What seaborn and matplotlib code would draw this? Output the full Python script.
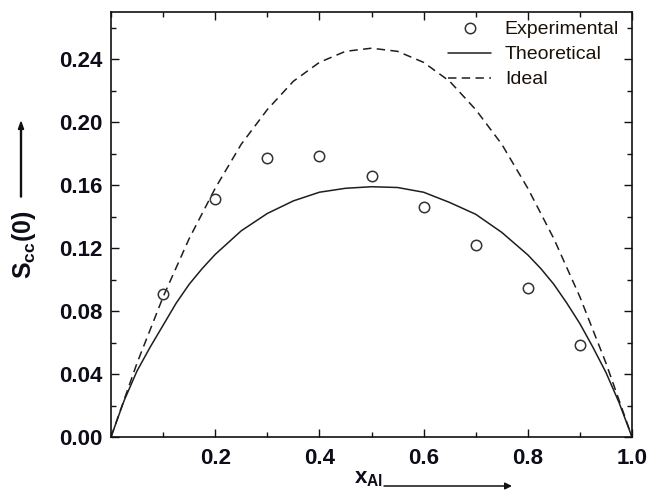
import matplotlib
matplotlib.use("Agg")
import matplotlib.pyplot as plt
import seaborn as sns
import pandas as pd
from matplotlib.ticker import MultipleLocator, FixedLocator

# ---- data ----
x_exp = [0.1, 0.2, 0.3, 0.4, 0.5, 0.6, 0.7, 0.8, 0.9]
s_exp = [0.0909, 0.1512, 0.1774, 0.1785, 0.1661, 0.1461, 0.1220, 0.0948, 0.0586]

x_theo = [0.0, 0.025, 0.05, 0.075, 0.10, 0.125, 0.15, 0.175, 0.20, 0.25, 0.30, 0.35, 0.40, 0.45, 0.50,
          0.55, 0.60, 0.65, 0.70, 0.75, 0.80, 0.825, 0.85, 0.875, 0.90, 0.925, 0.95, 0.975, 1.0]
s_theo = [0.0, 0.023, 0.042, 0.057, 0.071, 0.085, 0.097, 0.107, 0.116, 0.131, 0.142, 0.150, 0.1555,
          0.158, 0.159, 0.1585, 0.1555, 0.149, 0.1415, 0.130, 0.1157, 0.107, 0.097, 0.085, 0.072,
          0.057, 0.041, 0.022, 0.0]

x_ideal = [0.0, 0.05, 0.10, 0.15, 0.20, 0.25, 0.30, 0.35, 0.40, 0.45, 0.50,
           0.55, 0.60, 0.65, 0.70, 0.75, 0.80, 0.85, 0.90, 0.95, 1.0]
s_ideal = [0.0, 0.047, 0.089, 0.126, 0.158, 0.186, 0.208, 0.226, 0.238, 0.245, 0.247,
           0.245, 0.238, 0.226, 0.208, 0.186, 0.158, 0.126, 0.089, 0.047, 0.0]

x_ticklabels = ["0.2", "0.4", "0.6", "0.8", "1.0"]
y_ticklabels = ["0.00", "0.04", "0.08", "0.12", "0.16", "0.20", "0.24"]

sns.set_theme(style="ticks")
plt.rcParams["font.family"] = ["Liberation Sans", "DejaVu Sans"]
plt.rcParams["mathtext.fontset"] = "custom"
plt.rcParams["mathtext.rm"] = "Liberation Sans"
plt.rcParams["mathtext.bf"] = "Liberation Sans:bold"
plt.rcParams["mathtext.it"] = "Liberation Sans:italic"

W, H = 654, 493
fig = plt.figure(figsize=(W / 100, H / 100), dpi=100)
L, R, T, B = 111, 632, 12, 437
ax = fig.add_axes([L / W, 1 - B / H, (R - L) / W, (B - T) / H])

line_col = "#1e1e1e"
df_theo = pd.DataFrame({"x": x_theo, "s": s_theo})
df_ideal = pd.DataFrame({"x": x_ideal, "s": s_ideal})
df_exp = pd.DataFrame({"x": x_exp, "s": s_exp})

sns.lineplot(data=df_ideal, x="x", y="s", ax=ax, color=line_col, lw=1.1,
             linestyle=(0, (5.5, 3.5)), label="Ideal", sort=True)
sns.lineplot(data=df_theo, x="x", y="s", ax=ax, color=line_col, lw=1.1,
             label="Theoretical", sort=True)
ax.plot(df_exp["x"], df_exp["s"], linestyle="none", marker="o", markersize=7.5,
        markerfacecolor="none", markeredgecolor="#333333", markeredgewidth=1.1,
        label="Experimental")

ax.set_xlim(0, 1.0)
ax.set_ylim(0, 0.27)
ax.xaxis.set_major_locator(FixedLocator([0.2, 0.4, 0.6, 0.8, 1.0]))
ax.set_xticklabels(x_ticklabels)
ax.xaxis.set_minor_locator(MultipleLocator(0.1))
ax.yaxis.set_major_locator(FixedLocator([0.0, 0.04, 0.08, 0.12, 0.16, 0.20, 0.24]))
ax.set_yticklabels(y_ticklabels)
ax.yaxis.set_minor_locator(MultipleLocator(0.02))

for sp in ax.spines.values():
    sp.set_linewidth(1.2)
    sp.set_color("#111111")
    sp.set_visible(True)
ax.tick_params(which="both", direction="in", top=True, right=True, colors="#111111",
               labelcolor="#0d0d1a")
ax.tick_params(which="major", length=6, width=1.0, labelsize=16)
ax.tick_params(axis="y", which="major", pad=6)
ax.tick_params(axis="x", which="major", pad=8)
ax.tick_params(which="minor", length=3.3, width=1.0)
for lab in ax.get_xticklabels() + ax.get_yticklabels():
    lab.set_fontweight("bold")
ax.set_xlabel("")
ax.set_ylabel("")

h, l = ax.get_legend_handles_labels()
order = [l.index("Experimental"), l.index("Theoretical"), l.index("Ideal")]
leg = ax.legend([h[i] for i in order], [l[i] for i in order], loc="upper right",
                bbox_to_anchor=(0.992, 1.0), frameon=False, fontsize=14,
                handlelength=2.2, handletextpad=0.7, labelspacing=0.38,
                borderaxespad=0.0, borderpad=0.45)
for t in leg.get_texts():
    t.set_color("#1a1208")

# axis labels with arrows
fig.text(24 / W, 1 - 245 / H, r"$\mathbf{S}_{\mathbf{cc}}\mathbf{(0)}$", rotation=90,
         ha="center", va="center", fontsize=18, color="#0d0d1a")
fig.patches.append(matplotlib.patches.FancyArrow(
    21 / W, 1 - 197 / H, 0, (197 - 122) / H, width=0.0015, head_width=0.008,
    head_length=0.015, length_includes_head=True, color="#111111",
    transform=fig.transFigure, figure=fig))
ax.annotate("", xy=(512 / W, 1 - 486 / H), xytext=(384 / W, 1 - 486 / H),
            xycoords="figure fraction", textcoords="figure fraction",
            arrowprops=dict(arrowstyle="-|>", color="#111111", lw=1.1,
                            mutation_scale=10, shrinkA=0, shrinkB=0))
fig.text(354 / W, 1 - 483 / H, r"$\mathbf{x}_{\mathbf{Al}}$", ha="left", va="baseline",
         fontsize=16, color="#0d0d1a")

fig.savefig("out.png", dpi=100)
